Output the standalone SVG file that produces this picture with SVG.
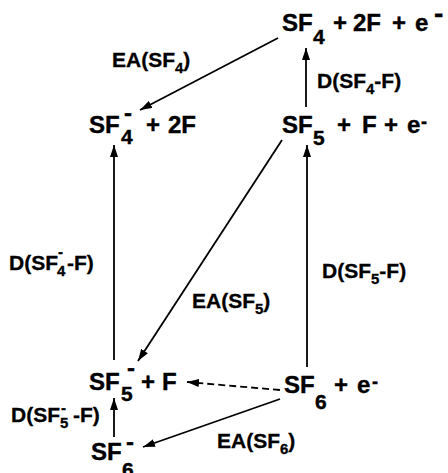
<svg xmlns="http://www.w3.org/2000/svg" width="448" height="473" viewBox="0 0 448 473">
<defs>
<marker id="ah" viewBox="0 0 12 8" refX="12" refY="4" markerWidth="12" markerHeight="8" markerUnits="userSpaceOnUse" orient="auto">
<path d="M0,0 L12,4 L0,8 Z" fill="#000"/>
</marker>
<style>
text{font-family:"Liberation Sans",Arial,sans-serif;font-weight:bold;fill:#000;stroke:#000;stroke-width:0.4}
.big{font-size:24px}
.sb{font-size:21px}
.lbl{font-size:21px;stroke-width:0.3}
.ls{font-size:15px}
.cn line{stroke:#000;stroke-width:1.8;fill:none;marker-end:url(#ah)}
.dash{stroke-dasharray:7 4}
</style>
</defs>
<rect width="448" height="473" fill="#fff"/>
<g class="cn" id="connectors">
<line x1="278" y1="38" x2="140" y2="110"/>
<line x1="306" y1="107" x2="306" y2="48"/>
<line x1="114" y1="360" x2="114" y2="145"/>
<line x1="307" y1="367" x2="307" y2="145"/>
<line x1="282" y1="140" x2="138" y2="361"/>
<line class="dash" x1="280" y1="390" x2="187" y2="382"/>
<line x1="280" y1="399" x2="143" y2="447"/>
<line x1="114" y1="437" x2="114" y2="398"/>
</g>
<g id="n-sf4-2f-e">
<text class="big" x="282" y="31">SF<tspan class="sb" x="313" y="44">4</tspan><tspan x="333" y="31">+</tspan><tspan x="353" y="31">2F</tspan><tspan x="392" y="31">+</tspan><tspan x="415" y="31">e</tspan><tspan style="font-size:28px" x="434" y="23">-</tspan></text>
</g>
<g id="n-sf4m-2f">
<text class="big" x="89" y="133">SF<tspan class="sb" x="121" y="144">4</tspan><tspan x="124" y="121">-</tspan><tspan x="146" y="133">+</tspan><tspan x="168" y="133">2F</tspan></text>
</g>
<g id="n-sf5-f-e">
<text class="big" x="282" y="133">SF<tspan class="sb" x="313" y="145">5</tspan><tspan x="337" y="133">+</tspan><tspan x="362" y="133">F</tspan><tspan x="384" y="133">+</tspan><tspan x="407" y="133">e</tspan><tspan style="font-size:18px" x="421" y="128">-</tspan></text>
</g>
<g id="n-sf5m-f">
<text class="big" x="89" y="390">SF<tspan class="sb" x="121" y="401">5</tspan><tspan x="127" y="376">-</tspan><tspan x="141" y="390">+</tspan><tspan x="162" y="390">F</tspan></text>
</g>
<g id="n-sf6-e">
<text class="big" x="284" y="393">SF<tspan class="sb" x="315" y="409">6</tspan><tspan x="334" y="393">+</tspan><tspan x="357" y="393">e</tspan><tspan style="font-size:18px" x="372" y="388">-</tspan></text>
</g>
<g id="n-sf6m">
<text class="big" x="91" y="460">SF<tspan class="sb" x="122" y="477">6</tspan><tspan x="126" y="450">-</tspan></text>
</g>
<g id="labels">
<text class="lbl" x="112" y="67">EA(SF<tspan class="ls" dy="6">4</tspan><tspan dy="-6">)</tspan></text>
<text class="lbl" x="317" y="88">D(SF<tspan class="ls" dy="6">4</tspan><tspan dy="-6">-F)</tspan></text>
<text class="lbl" x="9" y="270">D(SF<tspan class="ls" x="57" y="276">4</tspan><tspan class="ls" x="58" y="257">-</tspan><tspan x="67" y="270">-F)</tspan></text>
<text class="lbl" x="322" y="278">D(SF<tspan class="ls" dy="6">5</tspan><tspan dy="-6">-F)</tspan></text>
<text class="lbl" x="192" y="308">EA(SF<tspan class="ls" dy="6">5</tspan><tspan dy="-6">)</tspan></text>
<text class="lbl" x="11" y="422">D(SF<tspan class="ls" x="60" y="428">5</tspan><tspan class="ls" x="61" y="413">-</tspan><tspan x="73" y="422">-F)</tspan></text>
<text class="lbl" x="217" y="448">EA(SF<tspan class="ls" dy="6">6</tspan><tspan dy="-6">)</tspan></text>
</g>
</svg>
